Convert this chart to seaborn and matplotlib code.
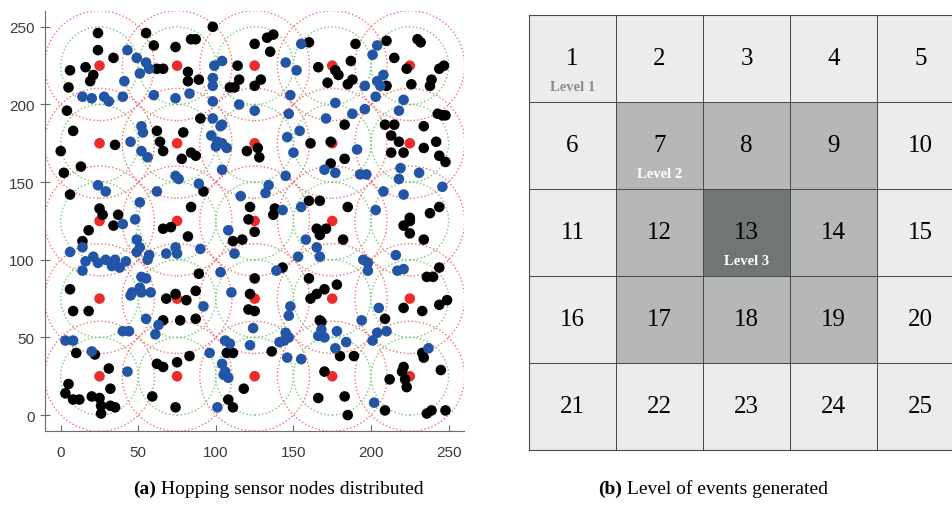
import pandas as pd
import matplotlib.pyplot as plt
from matplotlib.colors import ListedColormap
from matplotlib.patches import Circle
import seaborn as sns

# Centros dos clusters (grade 5x5) e raios de alcance
centros = [25, 75, 125, 175, 225]
raio_interno = 25
raio_externo = 35.36

# Nós estáticos (pretos)
nos_pretos = [
    (24, 246), (55, 246), (98, 250), (24, 235), (60, 238), (74, 237), (84, 242), (87, 242),
    (34, 230), (62, 223), (66, 223), (16, 224), (6, 222), (82, 221), (82, 215), (89, 216),
    (114, 225), (115, 216), (109, 211), (112, 211), (21, 219), (19, 215), (5, 211), (4, 196),
    (90, 191), (8, 183), (62, 183), (79, 182), (64, 176), (66, 170), (35, 174), (0, 170),
    (84, 169), (87, 167), (78, 165), (120, 170), (13, 160), (2, 156), (92, 144), (6, 142),
    (84, 134), (25, 133), (27, 129), (37, 129), (122, 134), (121, 126),
    (125, 239), (133, 243), (137, 245), (135, 234), (160, 240), (190, 239), (210, 241),
    (230, 242), (232, 240), (215, 230), (166, 224), (177, 222), (179, 219), (187, 228),
    (172, 214), (185, 213), (188, 216), (210, 212), (223, 223), (244, 223), (247, 225),
    (239, 216), (238, 212), (226, 213), (129, 216), (125, 212), (183, 187), (243, 194),
    (246, 193), (248, 193), (209, 187), (215, 187), (234, 186), (213, 180), (161, 175),
    (174, 176), (218, 176), (242, 176), (234, 172), (213, 169), (221, 169), (244, 167),
    (248, 163), (183, 165), (174, 162), (160, 138), (167, 138), (185, 134), (138, 133),
    (137, 129), (238, 130), (244, 134), (225, 127), (127, 172), (128, 166),
    (34, 122), (18, 119), (14, 112), (66, 120), (71, 121), (82, 115), (111, 112), (117, 113),
    (6, 81), (8, 67), (18, 67), (89, 91), (87, 80), (74, 78), (68, 75), (81, 74), (122, 78),
    (121, 68), (125, 67), (125, 88), (66, 61), (77, 61), (87, 62), (107, 40), (111, 40),
    (83, 38), (10, 40), (22, 39), (75, 34), (62, 33), (66, 31), (31, 30), (5, 20), (3, 14),
    (8, 10), (12, 10), (20, 12), (25, 11), (26, 6), (26, 1), (32, 6), (35, 5), (32, 17),
    (59, 12), (74, 5), (118, 17), (108, 10), (111, 5),
    (125, 118), (165, 120), (167, 116), (171, 120), (182, 113), (221, 122), (225, 125),
    (225, 117), (234, 113), (244, 95), (236, 89), (240, 89), (143, 95), (160, 88), (178, 84),
    (170, 81), (165, 78), (161, 75), (221, 69), (233, 67), (244, 71), (249, 74), (167, 61),
    (168, 60), (209, 62), (180, 38), (189, 38), (136, 41), (233, 40), (234, 37), (245, 29),
    (221, 31), (220, 28), (222, 23), (223, 18), (212, 23), (170, 28), (166, 11), (183, 12),
    (185, 0), (209, 3), (236, 1), (239, 3), (248, 3),
]

# Nós saltadores (azuis)
nos_azuis = [
    (43, 235), (49, 230), (55, 227), (57, 223), (51, 220), (99, 225), (104, 228), (98, 217),
    (98, 212), (14, 205), (20, 204), (28, 205), (31, 202), (40, 205), (41, 215), (60, 206),
    (74, 204), (83, 207), (98, 202), (115, 200), (98, 191), (103, 186), (104, 187), (52, 186),
    (53, 182), (97, 180), (101, 176), (104, 175), (107, 172), (100, 173), (45, 176), (52, 170),
    (56, 166), (104, 158), (74, 154), (76, 152), (89, 149), (24, 148), (29, 144), (62, 144),
    (51, 137), (116, 141), (48, 126),
    (155, 239), (204, 238), (201, 232), (145, 227), (152, 222), (208, 219), (204, 215),
    (206, 212), (196, 212), (148, 206), (177, 201), (203, 205), (221, 203), (125, 196),
    (147, 194), (171, 191), (188, 194), (196, 197), (218, 196), (154, 183), (146, 179),
    (150, 169), (191, 171), (170, 158), (177, 156), (193, 155), (197, 155), (219, 159),
    (218, 152), (231, 156), (145, 154), (134, 148), (132, 143), (208, 144), (221, 142),
    (246, 147), (155, 134), (143, 132), (203, 132),
    (40, 123), (14, 108), (6, 105), (49, 113), (51, 108), (49, 105), (57, 103), (56, 100),
    (68, 104), (74, 108), (75, 104), (90, 107), (108, 119), (112, 104), (16, 99), (21, 102),
    (29, 100), (33, 96), (38, 95), (42, 99), (14, 93), (24, 98), (35, 100), (52, 89), (55, 88),
    (51, 82), (46, 79), (45, 77), (52, 79), (58, 79), (92, 70), (103, 92), (110, 79), (55, 62),
    (63, 58), (61, 52), (40, 54), (44, 54), (3, 48), (8, 48), (124, 56), (106, 48), (109, 46),
    (122, 45), (96, 40), (20, 41), (104, 33), (105, 26), (108, 24), (106, 28), (43, 28),
    (101, 5),
    (158, 113), (165, 108), (167, 102), (153, 102), (216, 103), (195, 100), (198, 98),
    (198, 93), (217, 93), (221, 94), (139, 93), (205, 69), (148, 70), (147, 64), (194, 61),
    (210, 54), (204, 53), (201, 48), (168, 55), (166, 51), (170, 50), (178, 54), (145, 53),
    (144, 48), (147, 50), (141, 47), (184, 47), (177, 43), (146, 37), (155, 36), (237, 43),
    (202, 8),
]

# Níveis de evento da grade (b)
niveis = [
    [1, 1, 1, 1, 1],
    [1, 2, 2, 2, 1],
    [1, 2, 3, 2, 1],
    [1, 2, 2, 2, 1],
    [1, 1, 1, 1, 1],
]
celulas = [
    [1, 2, 3, 4, 5],
    [6, 7, 8, 9, 10],
    [11, 12, 13, 14, 15],
    [16, 17, 18, 19, 20],
    [21, 22, 23, 24, 25],
]
rotulos_nivel = ['Level 1', 'Level 2', 'Level 3']
celula_rotulo = [1, 7, 13]
cor_rotulo = ['#8c8c8c', 'white', 'white']

legenda_a = ['(a)', ' Hopping sensor nodes distributed']
legenda_b = ['(b)', ' Level of events generated']

cores = {'centro': '#ee2b2b', 'estatico': 'black', 'saltador': '#2355a6'}

# Monta o DataFrame dos nós
linhas = [(x, y, 'centro') for y in centros for x in centros]
linhas += [(x, y, 'estatico') for x, y in nos_pretos]
linhas += [(x, y, 'saltador') for x, y in nos_azuis]
df = pd.DataFrame(linhas, columns=['x', 'y', 'tipo'])

fig = plt.figure(figsize=(9.52, 5.06), dpi=100)

# (a) Distribuição dos nós
ax = fig.add_axes([0.0475, 0.147, 0.44, 0.8287])
for cy in centros:
    for cx in centros:
        ax.add_patch(Circle((cx, cy), raio_externo, fill=False, ls=':', lw=1.0,
                            ec='#f07070', zorder=1))
        ax.add_patch(Circle((cx, cy), raio_interno, fill=False, ls=':', lw=1.0,
                            ec='#7cc47c', zorder=1))
sns.scatterplot(data=df, x='x', y='y', hue='tipo', palette=cores, s=58,
                linewidth=0, legend=False, ax=ax, zorder=2)
ax.set_xlim(-10, 260)
ax.set_ylim(-10, 260)
ax.set_xticks([0, 50, 100, 150, 200, 250])
ax.set_yticks([0, 50, 100, 150, 200, 250])
ax.set_xlabel('')
ax.set_ylabel('')
for lado in ['top', 'right']:
    ax.spines[lado].set_visible(False)
for lado in ['left', 'bottom']:
    ax.spines[lado].set_color('#6a6a6a')
ax.tick_params(axis='x', direction='in', length=4, pad=10, colors='#6a6a6a',
               labelcolor='#3a3a3a', labelsize=11)
ax.tick_params(axis='y', direction='inout', length=7, pad=4, colors='#6a6a6a',
               labelcolor='#3a3a3a', labelsize=11)
for rot in ax.get_xticklabels() + ax.get_yticklabels():
    rot.set_family('Liberation Sans')

# (b) Níveis de eventos
ax2 = fig.add_axes([0.5557, 0.1087, 0.457, 0.8597])
cmap = ListedColormap(['#ececec', '#b5b7b8', '#727576'])
sns.heatmap(niveis, cmap=cmap, vmin=0.5, vmax=3.5, cbar=False, annot=celulas, fmt='d',
            annot_kws={'color': 'black', 'fontsize': 18, 'family': 'Liberation Serif'},
            linewidths=0.7, linecolor='#4a4a4a', square=False, ax=ax2)
ax2.set_xticks([])
ax2.set_yticks([])
for lado in ax2.spines.values():
    lado.set_visible(True)
    lado.set_color('#4a4a4a')
    lado.set_linewidth(0.8)
for rot, cel, cor in zip(rotulos_nivel, celula_rotulo, cor_rotulo):
    lin, col = divmod(cel - 1, 5)
    ax2.text(col + 0.5, lin + 0.82, rot, ha='center', va='center', color=cor,
             fontsize=10.5, fontweight='bold', family='Liberation Serif')

# Legendas das figuras
for leg, x0 in [(legenda_a, 0.1397), (legenda_b, 0.628)]:
    t = fig.text(x0, 0.0237, leg[0], fontsize=14, fontweight='bold',
                 family='Liberation Serif', va='baseline')
    fig.add_artist(plt.Annotation(leg[1], xy=(1, 0), xycoords=t, va='bottom', ha='left',
                                  fontsize=14, family='Liberation Serif'))

fig.savefig('out.png', dpi=100)
